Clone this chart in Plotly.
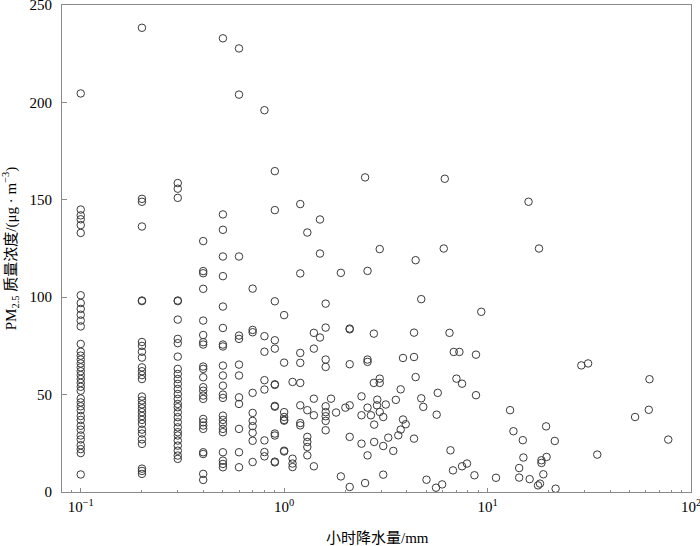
import plotly.graph_objects as go

# ---- data: hourly precipitation (mm) vs PM2.5 (ug/m3) ----
# discrete precipitation columns
col_x = [0.1, 0.2, 0.3, 0.4, 0.5, 0.6, 0.7, 0.8, 0.9, 1.0, 1.1, 1.2, 1.3, 1.4, 1.5, 1.6,
         1.7, 1.8, 1.9, 2.0, 2.1, 2.4, 2.5]
pm_01 = [204.6, 145, 142, 140, 137, 133, 101, 97, 94, 91, 88, 85, 76, 72, 70, 68, 66, 64,
         62, 60, 58, 56, 54, 52, 48, 46, 44, 42, 39, 37, 34, 32, 29, 27, 24, 22, 20, 9]
pm_02 = [238.3, 150.5, 149, 136.3, 98.3, 98, 77, 75, 72, 69, 64, 62, 60, 58, 49, 47, 45,
         43, 41, 39, 37, 35, 32, 30, 27, 24.7, 12, 10.8, 9.3]
pm_03 = [158.6, 155.7, 151, 98.3, 98, 88.5, 78.6, 76.4, 69.5, 63.2, 60.6, 58, 55.5, 52.9,
         50.3, 47.8, 45.2, 43.5, 40.9, 38.4, 35.8, 33.2, 30.7, 29, 26.4, 23.8, 21.2, 18.7, 17]
pm_04 = [128.8, 113.4, 112.3, 104.3, 88, 80.6, 76.9, 75.7, 64.4, 63.2, 58.9, 53.8, 52,
         49.5, 47.8, 37.5, 35.8, 34.1, 32.4, 20.4, 19.5, 9.3, 6.2]
pm_05 = [232.9, 142.5, 134.6, 120.9, 110.8, 95.2, 84.2, 75.7, 74.7, 64.9, 59.8, 54.6, 50,
         48.3, 39.2, 37, 35, 32.4, 30.7, 20.4, 16.1, 14.4, 12.7]
pm_06 = [227.7, 204, 120.9, 80.3, 78.6, 65.4, 59.8, 48.6, 45.2, 32.4, 20.4, 12.7]
pm_07 = [104.4, 83.2, 82, 50.9, 40.6, 36.5, 33.8, 30.4, 26.3, 15.4]
pm_08 = [196, 80, 72, 57.4, 52.6, 26.5, 20.5, 18.3]
pm_09 = [164.7, 144.7, 97.9, 77.9, 73.6, 55.3, 55, 44.2, 43.8, 30, 29, 15.6, 15.2]
pm_10 = [90.8, 66.4, 41, 38.5, 37, 36.6, 21.2, 20.8]
pm_11 = [56.5, 17.1, 14.6, 12.8]
pm_12 = [147.8, 112.2, 71.4, 66.3, 56, 44.5, 35.4, 34.2]
pm_13 = [133.2, 42, 28.3, 25.7, 23.1, 18.8]
pm_14 = [81.7, 73.6, 47.9, 39.4, 13.2]
pm_15 = [139.9, 122.4, 79.3]
pm_16 = [96.7, 84.4, 68, 64.2, 44, 41, 38.9, 36.5, 31.7]
pm_17 = [47.9]
pm_18 = [40.8]
pm_19 = [112.5, 8]
pm_20 = [43.3]
pm_21 = [83.9, 83.5, 65.6, 44.5, 28.3, 2.6]
pm_24 = [49.1, 39.4, 24.8]
pm_25 = [161.5, 4.6]
col_pm = [pm_01, pm_02, pm_03, pm_04, pm_05, pm_06, pm_07, pm_08, pm_09, pm_10, pm_11,
          pm_12, pm_13, pm_14, pm_15, pm_16, pm_17, pm_18, pm_19, pm_20, pm_21, pm_24, pm_25]

# remaining scattered observations (precipitation > 2.5 mm)
rain_other = [2.57, 2.76, 2.57, 2.57, 3.84, 4.35, 6.82, 7.27, 8.77, 2.76, 2.95, 2.95, 3.74,
              4.43, 7.03, 7.49, 2.57, 2.87, 2.86, 3.16, 3.54, 2.67, 2.95, 3.07, 2.77, 4.72,
              4.83, 5.69, 5.62, 8.77, 3.84, 3.96, 3.74, 3.64, 3.25, 2.77, 3.07, 2.57, 3.44,
              4.35, 6.57, 3.07, 5.01, 5.58, 5.98, 6.76, 7.49, 7.92, 8.62, 11.0,
              6.16, 2.95, 6.09, 4.43, 4.72, 9.31, 4.35, 6.5,
              15.9, 17.9, 28.9, 31.2, 62.5, 12.9, 62, 53.1, 19.4, 13.4, 14.9, 21.4, 77.3,
              34.6, 15.0, 18.4, 18.4, 19.5, 14.3, 14.3, 16.1, 18.8, 17.7, 18.1, 21.6]
pm_other = [113.5, 81.3, 68, 66.8, 68.8, 69.3, 71.9, 71.9, 70.5, 56, 58.2, 56, 52.7,
            59, 58.2, 55.6, 43.3, 47.4, 44.5, 44.9, 47.3, 39.4, 41.1, 38.5, 34.6, 48.1,
            43.7, 50.9, 39.7, 49.7, 37.2, 34.8, 32, 29.1, 27.9, 25.7, 23.6, 18.8, 21.1,
            27.4, 21.4, 8.9, 6.3, 2.2, 3.9, 11.1, 13.2, 14.6, 8.6, 7.3,
            160.8, 124.7, 125, 119, 99, 92.5, 81.8, 81.7,
            149, 125, 65, 66, 57.9, 42, 42.2, 38.5, 33.7, 31.2, 26.6, 26.2, 26.9,
            19.2, 17.7, 16.3, 14.9, 18, 12.3, 7.4, 6.6, 9.1, 3.4, 4.3, 1.7]

x_major = [0.1, 1, 10, 100]
x_major_text = ['10<sup>−1</sup>', '10<sup>0</sup>', '10<sup>1</sup>', '10<sup>2</sup>']
x_minor = [m * d for d in (0.01, 0.1, 1, 10) for m in range(2, 10)]
y_ticks = [0, 50, 100, 150, 200, 250]

# ---- build ----
xs, ys = [], []
for xv, vals in zip(col_x, col_pm):
    xs += [xv] * len(vals)
    ys += vals
xs += rain_other
ys += pm_other

SERIF = "Liberation Serif, Times New Roman, Noto Sans CJK SC, serif"
AX = '#8a8a8a'

fig = go.Figure(go.Scatter(
    x=xs, y=ys, mode='markers', cliponaxis=False,
    marker=dict(symbol='circle-open', size=7.5, color='#3a3a3a', line=dict(width=1, color='#3a3a3a')),
    hoverinfo='x+y', showlegend=False))

fig.update_layout(
    width=700, height=546,
    margin=dict(l=62, r=9, t=5, b=54),
    paper_bgcolor='white', plot_bgcolor='white',
    font=dict(family=SERIF, size=15, color='black'),
    xaxis=dict(type='log', range=[-1.092, 2.0], showgrid=False, zeroline=False,
               automargin=False,
               showline=True, linecolor=AX, linewidth=1, mirror=True,
               ticks='inside', ticklen=4, tickcolor=AX, tickwidth=1,
               tickmode='array', tickvals=x_major, ticktext=x_major_text,
               minor=dict(ticks='inside', ticklen=2, tickcolor=AX, tickwidth=1,
                          tickmode='array', tickvals=x_minor, showgrid=False),
               tickfont=dict(family=SERIF, size=15, color='black'),
               ticklabeloverflow='allow', ticklabelstandoff=1),
    yaxis=dict(range=[0, 250], showgrid=False, zeroline=False,
               automargin=False,
               showline=True, linecolor=AX, linewidth=1, mirror=True,
               ticks='inside', ticklen=5, tickcolor=AX, tickwidth=1,
               tickmode='array', tickvals=y_ticks,
               tickfont=dict(family=SERIF, size=15, color='black'),
               ticklabeloverflow='allow', ticklabelstandoff=6),
    annotations=[
        dict(text='小时降水量/mm', xref='paper', yref='paper', x=0.502, y=-0.095,
             xanchor='center', yanchor='middle', showarrow=False,
             font=dict(family=SERIF, size=15, color='black')),
        dict(text='PM<sub>2.5</sub> 质量浓度/(μg · m<sup>−3</sup>)', xref='paper', yref='paper',
             x=-0.083, y=0.5, xanchor='center', yanchor='middle', textangle=-90,
             showarrow=False, font=dict(family=SERIF, size=15, color='black')),
    ],
)

fig.write_html("out.html",
               config={'displayModeBar': False, 'staticPlot': True},
               post_script="document.body.style.margin='0';document.body.style.overflow='hidden';")
